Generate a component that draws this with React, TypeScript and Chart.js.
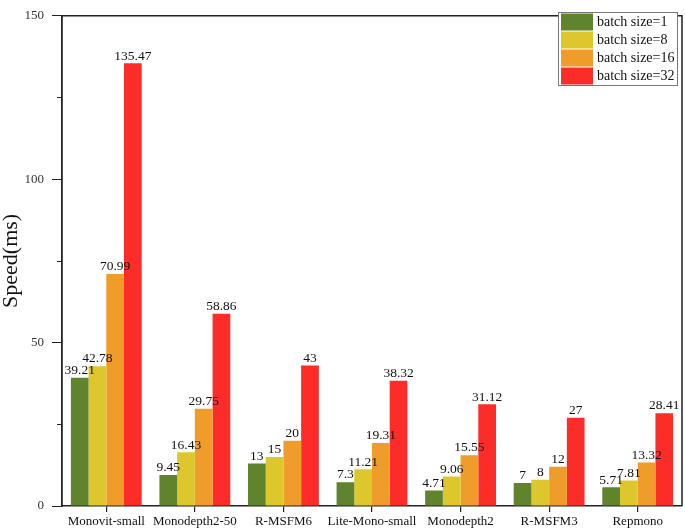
import React, { useEffect, useRef } from "react";
import { Chart, registerables } from "chart.js";

Chart.register(...registerables);

const categories = [
  "Monovit-small",
  "Monodepth2-50",
  "R-MSFM6",
  "Lite-Mono-small",
  "Monodepth2",
  "R-MSFM3",
  "Repmono",
];
const seriesLabels = ["batch size=1", "batch size=8", "batch size=16", "batch size=32"];
const batch1 = [39.21, 9.45, 13, 7.3, 4.71, 7, 5.71];
const batch8 = [42.78, 16.43, 15, 11.21, 9.06, 8, 7.81];
const batch16 = [70.99, 29.75, 20, 19.31, 15.55, 12, 13.32];
const batch32 = [135.47, 58.86, 43, 38.32, 31.12, 27, 28.41];
const seriesColors = ["#5f842d", "#ddc72d", "#f09c2a", "#fc2c29"];
const yTicks = [0, 50, 100, 150];
const yMinorTicks = [25, 75, 125];

const FONT = "'Liberation Serif', 'Times New Roman', serif";

export default function App() {
  const canvasRef = useRef<HTMLCanvasElement | null>(null);

  useEffect(() => {
    document.body.style.margin = "0";
    const canvas = canvasRef.current;
    if (!canvas) return;

    const frame = {
      id: "frame",
      afterDraw(chart: any) {
        const { ctx, chartArea } = chart;
        ctx.save();
        ctx.strokeStyle = "#222";
        ctx.lineWidth = 1.5;
        ctx.beginPath();
        ctx.moveTo(chartArea.left, chartArea.top);
        ctx.lineTo(chartArea.right, chartArea.top);
        ctx.lineTo(chartArea.right, chartArea.bottom);
        ctx.stroke();
        const y = chart.scales.y;
        ctx.lineWidth = 1;
        yMinorTicks.forEach((v) => {
          const py = Math.round(y.getPixelForValue(v)) + 0.5;
          ctx.beginPath();
          ctx.moveTo(chartArea.left - 5, py);
          ctx.lineTo(chartArea.left, py);
          ctx.stroke();
        });
        ctx.restore();
      },
    };

    const dataLabels = {
      id: "dataLabels",
      afterDatasetsDraw(chart: any) {
        const { ctx } = chart;
        ctx.save();
        ctx.font = `13.5px ${FONT}`;
        ctx.fillStyle = "#111";
        ctx.textAlign = "center";
        ctx.textBaseline = "bottom";
        chart.data.datasets.forEach((ds: any, i: number) => {
          const meta = chart.getDatasetMeta(i);
          meta.data.forEach((bar: any, j: number) => {
            ctx.fillText(String(ds.data[j]), bar.x, bar.y - 0.5);
          });
        });
        ctx.restore();
      },
    };

    const legendBox = {
      id: "legendBox",
      afterDraw(chart: any) {
        const { ctx } = chart;
        const x0 = 558;
        const y0 = 12;
        const w = 119;
        const rowH = 18;
        const h = rowH * chart.data.datasets.length + 1;
        ctx.save();
        ctx.fillStyle = "#fff";
        ctx.fillRect(x0, y0, w, h);
        ctx.strokeStyle = "#777";
        ctx.lineWidth = 1;
        ctx.strokeRect(x0 + 0.5, y0 + 0.5, w, h);
        ctx.font = `14px ${FONT}`;
        ctx.textBaseline = "middle";
        ctx.textAlign = "left";
        chart.data.datasets.forEach((ds: any, i: number) => {
          const ry = y0 + 1.5 + i * rowH;
          ctx.fillStyle = ds.backgroundColor;
          ctx.fillRect(x0 + 3, ry, 32, 17);
          ctx.fillStyle = "#111";
          ctx.fillText(ds.label, x0 + 39, ry + 9);
        });
        ctx.restore();
      },
    };

    const datasets = [batch1, batch8, batch16, batch32].map((d, i) => ({
      label: seriesLabels[i],
      data: d,
      backgroundColor: seriesColors[i],
      borderWidth: 0,
      categoryPercentage: 0.8,
      barPercentage: 1.0,
    }));

    const chart = new Chart(canvas, {
      type: "bar",
      data: { labels: categories, datasets },
      options: {
        responsive: false,
        animation: false,
        layout: { padding: { top: 5, right: 3, left: 0, bottom: 0 } },
        plugins: {
          legend: { display: false },
          tooltip: { enabled: false },
        },
        scales: {
          x: {
            offset: true,
            grid: {
              offset: false,
              drawOnChartArea: false,
              drawTicks: true,
              tickLength: 6,
              color: "#222",
              lineWidth: 1.2,
            },
            border: { display: true, color: "#222", width: 1.5 },
            ticks: {
              font: { family: FONT, size: 13 },
              color: "#111",
              padding: 2,
              maxRotation: 0,
              autoSkip: false,
            },
            afterFit(s: any) {
              s.height = 24;
            },
          },
          y: {
            min: 0,
            max: 150,
            afterBuildTicks(s: any) {
              s.ticks = yTicks.map((v) => ({ value: v }));
            },
            grid: {
              drawOnChartArea: false,
              drawTicks: true,
              tickLength: 10,
              color: "#222",
              lineWidth: 1,
            },
            border: { display: true, color: "#222", width: 1.8 },
            ticks: {
              font: { family: FONT, size: 13 },
              color: "#333",
              padding: 8,
            },
            title: {
              display: true,
              text: "Speed(ms)",
              font: { family: FONT, size: 22, lineHeight: 1 },
              color: "#111",
              padding: { top: 0, bottom: 0 },
            },
            afterFit(s: any) {
              s.width = 62;
            },
          },
        },
      },
      plugins: [frame, dataLabels, legendBox],
    });

    return () => chart.destroy();
  }, []);

  return (
    <div style={{ width: 685, height: 530 }}>
      <canvas ref={canvasRef} width={685} height={530} style={{ display: "block" }} />
    </div>
  );
}
